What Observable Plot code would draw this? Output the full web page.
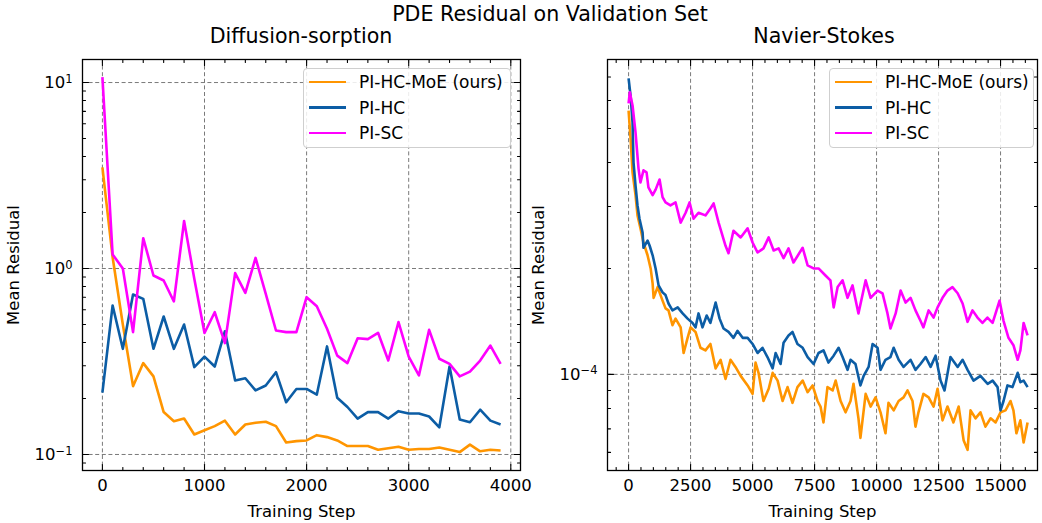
<!DOCTYPE html>
<html><head><meta charset="utf-8">
<script src="https://cdn.jsdelivr.net/npm/d3@7"></script>
<script src="https://cdn.jsdelivr.net/npm/@observablehq/plot@0.6"></script>
<style>
body{margin:0;background:#fff;font-family:"DejaVu Sans",sans-serif;color:#000;}
#root{position:relative;width:1042px;height:523px;overflow:hidden;background:#fff;}
.ttl{position:absolute;font-size:20.6px;line-height:1;white-space:nowrap;transform:translateX(-50%);}
.leg{position:absolute;border:1.5px solid #cfcfcf;border-radius:4px;background:rgba(255,255,255,0.85);box-sizing:border-box;}
.row{position:absolute;left:0;height:20px;display:flex;align-items:center;font-size:17px;white-space:nowrap;}
.sw{display:inline-block;width:37px;height:2.6px;margin-left:5px;margin-right:13px;}
</style></head><body><div id="root"></div>
<script>
// ---------- Series names / colours ----------
const seriesNames = ["PI-HC-MoE (ours)", "PI-HC", "PI-SC"];
const seriesColors = ["#FF9500", "#0C5DA5", "#FF00FF"];

// ---------- Diffusion-sorption (left) ----------
const dsSteps = [0,100,200,300,400,500,600,700,800,900,1000,1100,1200,1300,1400,1500,1600,1700,1800,1900,
                 2000,2100,2200,2300,2400,2500,2600,2700,2800,2900,3000,3100,3200,3300,3400,3500,3600,3700,3800,3900];
const dsMoE = [3.5,1.15,0.5,0.233,0.31,0.263,0.169,0.151,0.156,0.128,0.135,0.142,0.152,0.128,0.145,0.148,0.15,0.142,0.116,0.118,
               0.119,0.127,0.124,0.119,0.111,0.111,0.111,0.106,0.108,0.11,0.106,0.107,0.107,0.109,0.106,0.103,0.113,0.104,0.106,0.105];
const dsHC = [0.215,0.633,0.37,0.725,0.687,0.37,0.552,0.37,0.5,0.295,0.336,0.297,0.46,0.25,0.257,0.221,0.235,0.277,0.191,0.225,
              0.225,0.21,0.381,0.202,0.18,0.156,0.169,0.169,0.156,0.171,0.166,0.166,0.16,0.14,0.297,0.154,0.149,0.174,0.152,0.145];
const dsSC = [10.7,1.19,1.0,0.455,1.455,0.917,0.862,0.665,1.8,0.88,0.45,0.582,0.397,0.944,0.74,1.14,0.73,0.464,0.455,0.455,
              0.701,0.627,0.474,0.34,0.31,0.422,0.417,0.451,0.32,0.515,0.336,0.266,0.468,0.327,0.307,0.263,0.279,0.32,0.385,0.307];
const dsXMajor = [0,1000,2000,3000,4000];
const dsXMinor = [200,400,600,800,1200,1400,1600,1800,2200,2400,2600,2800,3200,3400,3600,3800];
const dsYMajor = [0.1,1,10];
const dsYMinor = [0.09,0.2,0.3,0.4,0.5,0.6,0.7,0.8,0.9,2,3,4,5,6,7,8,9];
const dsYLabels = {"0.1":["10","−1"],"1":["10","0"],"10":["10","1"]};

// ---------- Navier-Stokes (right) ----------
const nsMoESteps = [0,80,160,280,360,480,600,765,890,970,1010,1170,1370,1490,1610,1770,1895,2100,2220,2380,
  2500,2700,2900,3100,3300,3510,3710,3910,4110,4310,4520,4800,5000,5120,5240,5440,5650,5810,6010,6210,
  6410,6610,6810,7020,7220,7420,7620,7740,7860,8020,8230,8350,8550,8750,8950,9070,9270,9350,9560,9760,
  9960,10160,10360,10480,10690,10890,11090,11250,11450,11570,11690,11890,12100,12300,12460,12660,12860,13100,13310,13510,
  13670,13790,13990,14190,14390,14600,14800,15000,15200,15400,15520,15640,15800,15930,16090];
const nsMoE = [5.62e-4,4.68e-4,3.75e-4,3.23e-4,2.83e-4,2.60e-4,2.37e-4,2.18e-4,2.00e-4,1.81e-4,
  1.65e-4,1.77e-4,1.62e-4,1.54e-4,1.52e-4,1.38e-4,1.44e-4,1.36e-4,1.15e-4,1.27e-4,
  1.36e-4,1.32e-4,1.19e-4,1.17e-4,1.22e-4,1.04e-4,1.10e-4,0.97e-4,1.10e-4,1.05e-4,
  0.99e-4,0.93e-4,0.88e-4,1.08e-4,1.01e-4,0.84e-4,0.91e-4,1.01e-4,0.96e-4,0.84e-4,
  0.92e-4,0.83e-4,0.92e-4,0.96e-4,0.89e-4,0.93e-4,0.84e-4,0.81e-4,0.73e-4,0.92e-4,
  0.90e-4,0.96e-4,0.84e-4,0.78e-4,0.84e-4,0.94e-4,0.75e-4,0.66e-4,0.88e-4,0.81e-4,
  0.86e-4,0.78e-4,0.68e-4,0.83e-4,0.79e-4,0.84e-4,0.86e-4,0.90e-4,0.84e-4,0.71e-4,
  0.78e-4,0.88e-4,0.86e-4,0.81e-4,0.91e-4,0.74e-4,0.81e-4,0.73e-4,0.81e-4,0.65e-4,
  0.61e-4,0.79e-4,0.75e-4,0.78e-4,0.71e-4,0.75e-4,0.73e-4,0.78e-4,0.79e-4,0.84e-4,
  0.79e-4,0.68e-4,0.74e-4,0.64e-4,0.73e-4];
const nsHCSteps = [0,80,160,200,280,360,440,565,600,765,850,970,1090,1210,1370,1490,1610,1770,1980,2180,
  2380,2580,2700,2820,2980,3150,3300,3510,3670,3830,4030,4230,4390,4600,4800,5000,5200,5400,5600,5810,
  5930,6130,6250,6450,6610,6810,7020,7220,7460,7660,7860,8060,8270,8470,8630,8830,8950,9150,9350,9480,
  9680,9840,10040,10160,10360,10560,10690,10890,11090,11370,11570,11770,11980,12180,12380,12580,12740,12980,13270,13470,
  13670,13910,14190,14480,14680,14880,15000,15120,15280,15480,15690,15800,15930,16090];
const nsHC = [6.94e-4,6.20e-4,5.20e-4,4.00e-4,3.44e-4,3.02e-4,2.77e-4,2.53e-4,2.29e-4,2.40e-4,
  2.32e-4,2.18e-4,2.00e-4,1.79e-4,1.71e-4,1.68e-4,1.59e-4,1.52e-4,1.55e-4,1.49e-4,
  1.44e-4,1.40e-4,1.36e-4,1.49e-4,1.36e-4,1.47e-4,1.40e-4,1.60e-4,1.44e-4,1.35e-4,
  1.32e-4,1.27e-4,1.33e-4,1.27e-4,1.27e-4,1.22e-4,1.15e-4,1.19e-4,1.12e-4,1.04e-4,
  1.15e-4,1.07e-4,1.23e-4,1.29e-4,1.32e-4,1.22e-4,1.19e-4,1.12e-4,1.07e-4,1.15e-4,
  1.17e-4,1.08e-4,1.13e-4,1.19e-4,1.12e-4,1.03e-4,1.10e-4,1.07e-4,0.93e-4,0.99e-4,
  1.05e-4,1.22e-4,1.19e-4,1.03e-4,1.10e-4,1.12e-4,1.19e-4,1.10e-4,1.05e-4,1.10e-4,
  1.03e-4,1.07e-4,1.12e-4,1.05e-4,1.13e-4,0.96e-4,0.90e-4,1.12e-4,1.05e-4,1.10e-4,
  1.03e-4,0.96e-4,0.99e-4,0.94e-4,0.96e-4,0.92e-4,0.79e-4,0.84e-4,0.93e-4,0.92e-4,
  1.01e-4,0.95e-4,0.96e-4,0.92e-4];
const nsSCSteps = [0,50,160,280,400,480,600,725,800,970,1090,1250,1370,1490,1690,1895,2100,2300,2460,2620,
  2820,3100,3300,3430,3630,3910,4030,4230,4520,4800,5000,5200,5440,5650,5850,6050,6250,6450,6650,7020,
  7220,7460,7660,7940,8140,8270,8430,8630,8830,9030,9270,9560,9760,10040,10240,10440,10560,10770,10970,11170,
  11370,11570,11770,11890,12100,12300,12460,12660,12860,13060,13270,13470,13670,13870,14070,14270,14470,14680,14800,14960,
  15120,15320,15520,15690,15800,15930,16090];
const nsSC = [5.89e-4,6.33e-4,5.81e-4,4.87e-4,3.85e-4,3.51e-4,3.80e-4,3.75e-4,3.40e-4,3.23e-4,
  3.35e-4,3.58e-4,3.19e-4,3.08e-4,3.02e-4,3.08e-4,2.70e-4,2.88e-4,3.08e-4,2.77e-4,
  2.88e-4,2.83e-4,2.96e-4,3.06e-4,2.70e-4,2.32e-4,2.21e-4,2.56e-4,2.45e-4,2.60e-4,
  2.37e-4,2.22e-4,2.28e-4,2.45e-4,2.25e-4,2.28e-4,2.14e-4,2.28e-4,2.08e-4,2.29e-4,
  2.04e-4,2.00e-4,2.00e-4,1.91e-4,1.85e-4,1.55e-4,1.77e-4,1.85e-4,1.65e-4,1.79e-4,
  1.49e-4,1.85e-4,1.65e-4,1.73e-4,1.70e-4,1.49e-4,1.35e-4,1.49e-4,1.73e-4,1.60e-4,
  1.65e-4,1.52e-4,1.42e-4,1.36e-4,1.52e-4,1.45e-4,1.55e-4,1.65e-4,1.73e-4,1.77e-4,
  1.70e-4,1.59e-4,1.41e-4,1.52e-4,1.45e-4,1.40e-4,1.45e-4,1.40e-4,1.49e-4,1.62e-4,
  1.42e-4,1.27e-4,1.21e-4,1.10e-4,1.17e-4,1.40e-4,1.29e-4];
const nsXMajor = [0,2500,5000,7500,10000,12500,15000];
const nsXMinor = [-500,500,1000,1500,2000,3000,3500,4000,4500,5500,6000,6500,7000,8000,8500,9000,9500,10500,11000,11500,12000,13000,13500,14000,14500,15500,16000];
const nsYMajor = [1e-4];
const nsYMinor = [6e-5,7e-5,8e-5,9e-5,2e-4,3e-4,4e-4,5e-4,6e-4,7e-4];
const nsYLabels = {"0.0001":["10","−4"]};

const titles = {main:"PDE Residual on Validation Set", left:"Diffusion-sorption", right:"Navier-Stokes"};
const xLabel = "Training Step", yLabel = "Mean Residual";

function rows(steps, values, name) { return steps.map((s, i) => ({step: s, value: values[i], series: name})); }

const tickShape = {draw(c, l) { c.moveTo(0, 0); c.lineTo(0, -l); }};

function panel(cfg) {
  const [x0, x1] = cfg.xDomain, [y0, y1] = cfg.yDomain;
  const inX = v => v >= x0 && v <= x1, inY = v => v >= y0 && v <= y1;
  const tick = (data, k, anchor, len) => Plot.vector(data.filter(k === "x" ? inX : inY), {
    [k]: d => d, frameAnchor: anchor, length: len, anchor: "start", shape: tickShape,
    rotate: {bottom: 0, top: 180, left: 90, right: -90}[anchor], stroke: "black", strokeWidth: 1.1
  });
  const gridStyle = {stroke: "#7a7a7a", strokeOpacity: 1, strokeWidth: 1, strokeDasharray: "4,2.6"};
  const lines = cfg.series.map((s, i) => Plot.line(s, {x: "step", y: "value", stroke: seriesColors[i], strokeWidth: 2.6, strokeLinejoin: "round", strokeLinecap: "butt"}));
  const svg = Plot.plot({
    width: cfg.width, height: 523,
    marginLeft: cfg.marginLeft, marginRight: cfg.marginRight, marginTop: 59, marginBottom: 53,
    style: {fontFamily: "DejaVu Sans", fontSize: "16.5px", color: "black", background: "transparent", overflow: "visible"},
    x: {domain: cfg.xDomain},
    y: {type: "log", domain: cfg.yDomain},
    marks: [
      Plot.gridX(cfg.xMajor.filter(inX), gridStyle),
      Plot.gridY(cfg.yMajor.filter(inY), gridStyle),
      ...lines,
      tick(cfg.xMajor, "x", "bottom", 6), tick(cfg.xMinor, "x", "bottom", 3),
      tick(cfg.xMajor, "x", "top", 6), tick(cfg.xMinor, "x", "top", 3),
      tick(cfg.yMajor, "y", "left", 6), tick(cfg.yMinor, "y", "left", 3),
      tick(cfg.yMajor, "y", "right", 6), tick(cfg.yMinor, "y", "right", 3),
      Plot.axisX(cfg.xMajor.filter(inX), {tickSize: 0, tickPadding: 9, fontSize: 16.5, tickFormat: d => String(d),
        label: xLabel, labelAnchor: "center", labelOffset: 46, labelArrow: "none"}),
      Plot.axisY(cfg.yMajor.filter(inY), {tickSize: 0, tickPadding: 10, fontSize: 16.5, tickFormat: d => cfg.yLabels[String(d)].join("^"),
        label: yLabel, labelAnchor: "center", labelOffset: 75, labelArrow: "none"}),
      Plot.frame({stroke: "black", strokeWidth: 1.3})
    ]
  });
  // render the exponent of the y tick labels as a raised, smaller tspan (keeps real text)
  svg.querySelectorAll("text").forEach(t => {
    const s = t.textContent;
    if (/^10\^/.test(s)) {
      const exp = s.slice(3);
      t.textContent = "10";
      const ts = document.createElementNS("http://www.w3.org/2000/svg", "tspan");
      ts.setAttribute("dy", "-0.45em");
      ts.setAttribute("font-size", "11.5px");
      ts.textContent = exp;
      t.appendChild(ts);
    }
  });
  return svg;
}

const root = document.getElementById("root");

const left = panel({
  width: 530, marginLeft: 82, marginRight: 10,
  xDomain: [-195, 4095], yDomain: [0.082, 13.3],
  xMajor: dsXMajor, xMinor: dsXMinor, yMajor: dsYMajor, yMinor: dsYMinor, yLabels: dsYLabels,
  series: [rows(dsSteps, dsMoE, seriesNames[0]), rows(dsSteps, dsHC, seriesNames[1]), rows(dsSteps, dsSC, seriesNames[2])]
});
left.style.position = "absolute"; left.style.left = "0px"; left.style.top = "0px";
root.appendChild(left);

const right = panel({
  width: 512, marginLeft: 77, marginRight: 5,
  xDomain: [-850, 16490], yDomain: [5.33e-5, 7.85e-4],
  xMajor: nsXMajor, xMinor: nsXMinor, yMajor: nsYMajor, yMinor: nsYMinor, yLabels: nsYLabels,
  series: [rows(nsMoESteps, nsMoE, seriesNames[0]), rows(nsHCSteps, nsHC, seriesNames[1]), rows(nsSCSteps, nsSC, seriesNames[2])]
});
right.style.position = "absolute"; right.style.left = "530px"; right.style.top = "0px";
root.appendChild(right);

function title(text, cx, top) {
  const d = document.createElement("div");
  d.className = "ttl"; d.textContent = text;
  d.style.left = cx + "px"; d.style.top = top + "px";
  root.appendChild(d);
}
title(titles.main, 550, 4);
title(titles.left, 301, 26);
title(titles.right, 824, 26);

function legend(x, y, w) {
  const box = document.createElement("div");
  box.className = "leg";
  box.style.left = x + "px"; box.style.top = y + "px";
  box.style.width = w + "px"; box.style.height = "80px";
  seriesNames.forEach((n, i) => {
    const r = document.createElement("div");
    r.className = "row"; r.style.top = (3 + i * 25.5) + "px";
    const sw = document.createElement("span"); sw.className = "sw"; sw.style.background = seriesColors[i];
    const t = document.createElement("span"); t.textContent = n;
    r.appendChild(sw); r.appendChild(t); box.appendChild(r);
  });
  root.appendChild(box);
}
legend(303, 68, 208);
legend(829, 68, 205);
</script>
</body></html>
